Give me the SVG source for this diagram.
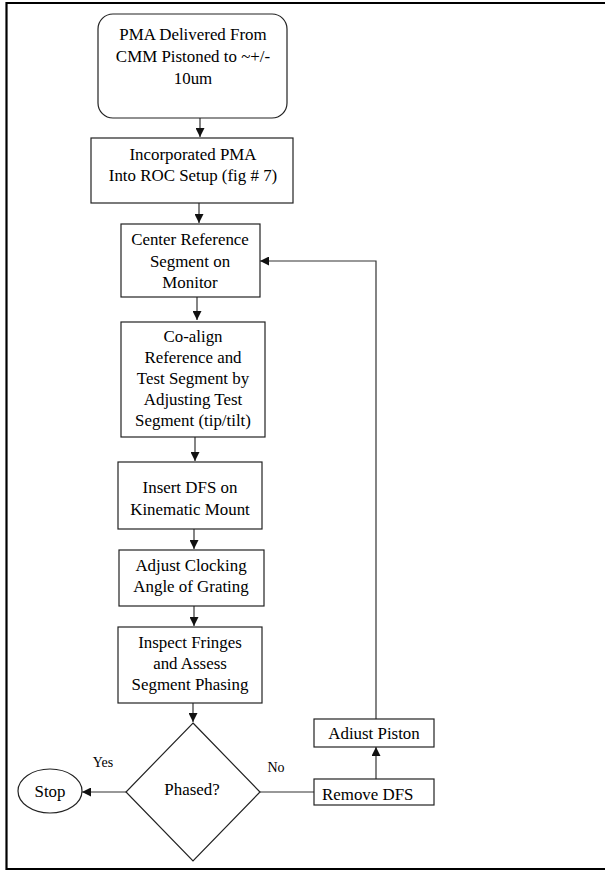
<svg xmlns="http://www.w3.org/2000/svg" width="605" height="871" viewBox="0 0 605 871">
<style>
.n{fill:#fff;stroke:#222;stroke-width:1.2}
.t{font-family:'Liberation Serif','Times New Roman','DejaVu Serif',serif;font-size:16.9px;fill:#000;text-anchor:middle}
.c{fill:none;stroke:#333;stroke-width:1.2}
</style>
<defs>
<marker id="a" viewBox="0 0 10 10" refX="10" refY="5" markerWidth="9" markerHeight="9" markerUnits="userSpaceOnUse" orient="auto"><path d="M0,0L10,5L0,10z" fill="#111"/></marker>
</defs>
<rect x="0" y="0" width="605" height="871" fill="#fff"/>
<path d="M605,3H6.5V869H605" fill="none" stroke="#000" stroke-width="2.2"/>
<g id="connectors">
<path class="c" d="M200,118V137" marker-end="url(#a)"/>
<path class="c" d="M199,203V223" marker-end="url(#a)"/>
<path class="c" d="M197,297V320" marker-end="url(#a)"/>
<path class="c" d="M195,437V461" marker-end="url(#a)"/>
<path class="c" d="M194,529V549" marker-end="url(#a)"/>
<path class="c" d="M194,606V626" marker-end="url(#a)"/>
<path class="c" d="M193,703V722" marker-end="url(#a)"/>
<path class="c" d="M126,792H82" marker-end="url(#a)"/>
<path class="c" d="M260,792H314"/>
<path class="c" d="M376,779V747" marker-end="url(#a)"/>
<path class="c" d="M376,719V261H260" marker-end="url(#a)"/>
</g>
<g id="n1"><rect class="n" x="98" y="14" width="189" height="104" rx="15"/>
<text class="t" x="193" y="40">PMA Delivered From</text><text class="t" x="193" y="62">CMM Pistoned to ~+/-</text><text class="t" x="193" y="84">10um</text></g>
<g id="n2"><rect class="n" x="91" y="138" width="202" height="65"/>
<text class="t" x="193" y="160">Incorporated PMA</text><text class="t" x="193" y="181">Into ROC Setup (fig # 7)</text></g>
<g id="n3"><rect class="n" x="121" y="224" width="139" height="73"/>
<text class="t" x="190" y="245">Center Reference</text><text class="t" x="190" y="267">Segment on</text><text class="t" x="190" y="288">Monitor</text></g>
<g id="n4"><rect class="n" x="121" y="322" width="144" height="115"/>
<text class="t" x="193" y="342">Co-align</text><text class="t" x="193" y="363">Reference and</text><text class="t" x="193" y="384">Test Segment by</text><text class="t" x="193" y="405">Adjusting Test</text><text class="t" x="193" y="426">Segment (tip/tilt)</text></g>
<g id="n5"><rect class="n" x="118" y="462" width="144" height="67"/>
<text class="t" x="190" y="493">Insert DFS on</text><text class="t" x="190" y="515">Kinematic Mount</text></g>
<g id="n6"><rect class="n" x="119" y="550" width="145" height="56"/>
<text class="t" x="191" y="571">Adjust Clocking</text><text class="t" x="191" y="592">Angle of Grating</text></g>
<g id="n7"><rect class="n" x="118" y="627" width="144" height="76"/>
<text class="t" x="190" y="648">Inspect Fringes</text><text class="t" x="190" y="669">and Assess</text><text class="t" x="190" y="690">Segment Phasing</text></g>
<g id="n8"><path class="n" d="M193,723L260,792L193,861L126,792Z"/>
<text class="t" x="192" y="795">Phased?</text></g>
<g id="n9"><ellipse class="n" cx="50" cy="791" rx="32" ry="22"/>
<text class="t" x="50" y="797">Stop</text></g>
<g id="n10"><rect class="n" x="314" y="779" width="120" height="26"/>
<text class="t" x="322" y="800" style="text-anchor:start">Remove DFS</text></g>
<g id="n11"><rect class="n" x="314" y="719" width="120" height="28"/>
<text class="t" x="374" y="739">Adiust Piston</text></g>
<text class="t" x="103" y="767" style="font-size:14px">Yes</text>
<text class="t" x="276" y="772" style="font-size:14px">No</text>
</svg>
